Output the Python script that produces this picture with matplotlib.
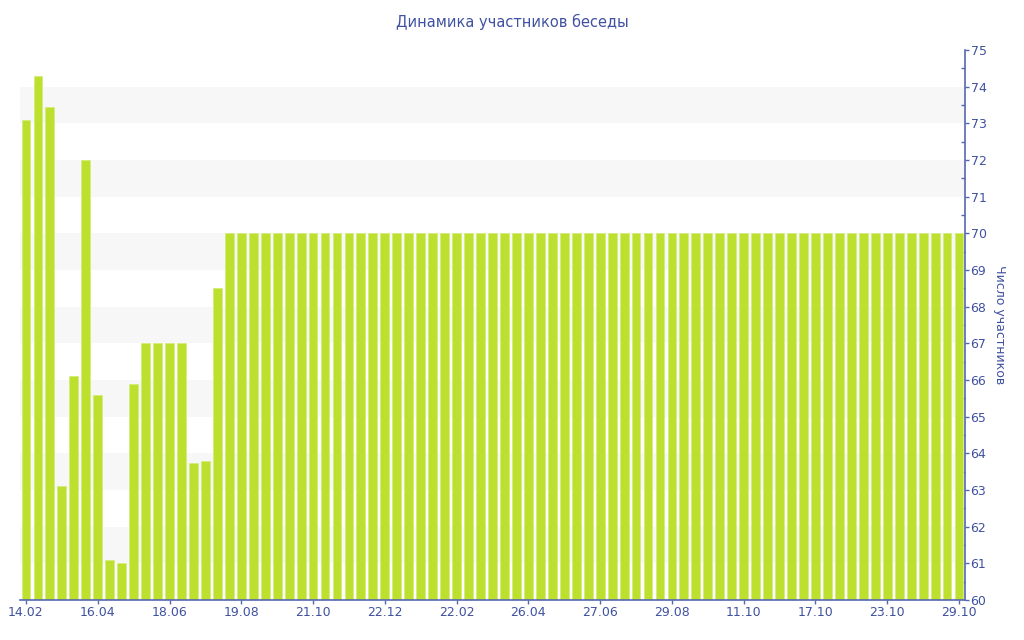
import matplotlib
matplotlib.use('Agg')
import matplotlib.pyplot as plt
from matplotlib.ticker import MultipleLocator

# participants per day (79 bars)
head_values = [73.1, 74.3, 73.45, 63.1, 66.1, 72.0, 65.6, 61.1, 61.0, 65.9,
               67.0, 67.0, 67.0, 67.0, 63.75, 63.8, 68.5]
tail_values = [70] * 62
values = head_values + tail_values

tick_labels = ['14.02', '16.04', '18.06', '19.08', '21.10', '22.12', '22.02',
               '26.04', '27.06', '29.08', '11.10', '17.10', '23.10', '29.10']
tick_step = 6

title = 'Динамика участников беседы'
ylabel = 'Число участников'

text_color = '#3F51A0'
axis_color = '#5468B0'
bar_color = '#BDE02E'
band_color = '#F7F7F7'

fig = plt.figure(figsize=(10.24, 6.4), dpi=100)
ax = fig.add_axes([20 / 1024, 40 / 640, 945 / 1024, 550 / 640])

# alternating background bands
for lo in range(61, 75, 2):
    ax.axhspan(lo, lo + 1, color=band_color, zorder=0, lw=0)

x = list(range(len(values)))
ax.bar(x, [v - 60 for v in values], bottom=60, width=0.74,
       color=bar_color, edgecolor='#D3EC7C', linewidth=0.6, zorder=2)

ax.set_xlim(-0.5, len(values) - 0.5)
ax.set_ylim(60, 75)

ax.set_xticks([i * tick_step for i in range(len(tick_labels))])
ax.set_xticklabels(tick_labels)

ax.yaxis.tick_right()
ax.yaxis.set_label_position('right')
ax.yaxis.set_major_locator(MultipleLocator(1))
ax.yaxis.set_minor_locator(MultipleLocator(0.5))

for side in ['top', 'left']:
    ax.spines[side].set_visible(False)
for side in ['bottom', 'right']:
    ax.spines[side].set_color(axis_color)
    ax.spines[side].set_linewidth(1.2)

ax.tick_params(axis='x', colors=axis_color, labelcolor=text_color,
               labelsize=9, length=3, width=1, pad=1)
ax.tick_params(axis='y', which='major', colors=axis_color, labelcolor=text_color,
               labelsize=9, length=3, width=1, pad=1, direction='out')
ax.tick_params(axis='y', which='minor', colors=axis_color, length=3, width=1,
               direction='in')

ax.set_ylabel(ylabel, color=text_color, fontsize=9, rotation=270, labelpad=14)
fig.text(0.5, 1 - 22 / 640, title, color=text_color, fontsize=10.5,
         ha='center', va='center')

fig.savefig('out.png', dpi=100, facecolor='white')
